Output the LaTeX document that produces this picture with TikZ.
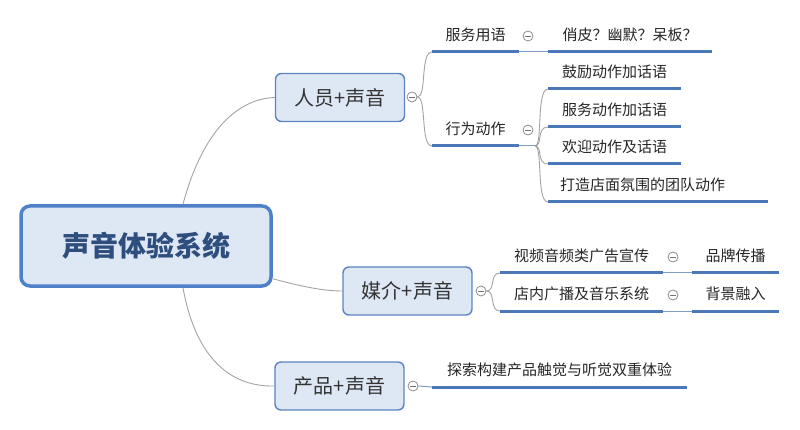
\documentclass[tikz,border=0pt]{standalone}
\usepackage{fontspec}
\setmainfont{Noto Sans CJK SC}
\definecolor{boxfill}{HTML}{DEE8F5}
\definecolor{boxline}{HTML}{5B84C0}
\definecolor{hubline}{HTML}{4F81C9}
\definecolor{hubtext}{HTML}{2E4E7E}
\definecolor{barblue}{HTML}{4A78B8}
\definecolor{wiregray}{HTML}{A3A3A3}
\definecolor{linkblue}{HTML}{7E9CC4}
\begin{document}
\begin{tikzpicture}[x=1pt,y=-1pt,
  hub/.style={draw=hubline,fill=boxfill,line width=3.5pt,rounded corners=9pt,
    minimum width=250pt,minimum height=80pt,text=hubtext,
    font=\fontsize{28}{30}\selectfont\bfseries},
  topic/.style={draw=boxline,fill=boxfill,line width=1.4pt,rounded corners=6pt,
    minimum width=129pt,minimum height=48pt,text=black!80,
    font=\fontsize{20}{22}\selectfont},
  leaf/.style={anchor=south west,minimum width=#1,minimum height=34pt,inner sep=0pt,
    text=black!85,font=\fontsize{15}{17}\selectfont},
  bar/.style={draw=barblue,line width=3pt},
  wire/.style={draw=wiregray,line width=0.9pt},
  link/.style={draw=linkblue,line width=1pt},
  knob/.style={circle,draw=black!45,fill=white,line width=0.8pt,minimum size=10pt,inner sep=0pt,
    path picture={\draw[black!55,line width=0.8pt]
      ([xshift=-2.6pt]path picture bounding box.center) --
      ([xshift=2.6pt]path picture bounding box.center);}}]
  \useasboundingbox (0,0) rectangle (800,430);
  % main topics
  \node[hub] (hub) at (146,246) {声音体验系统};
  \node[topic] (rysy) at (340,97.5) {人员+声音};
  \node[topic] (mjsy) at (407.5,291) {媒介+声音};
  \node[topic] (cpsy) at (339.5,386) {产品+声音};
  % collapse knobs
  \node[knob] (k1) at (412,97) {};
  \node[knob] (k2) at (528,36) {};
  \node[knob] (k3) at (528,130) {};
  \node[knob] (k4) at (481,291) {};
  \node[knob] (k5) at (673,257) {};
  \node[knob] (k6) at (673,295) {};
  \node[knob] (k7) at (413,386) {};
  % leaves
  \node[leaf=87pt] (fwyy) at (432,52) {服务用语};
  \node[leaf=164pt] (qpym) at (548,52) {俏皮？幽默？呆板？};
  \node[leaf=87pt] (xwdz) at (432,146) {行为动作};
  \node[leaf=133pt] (gldz) at (548,89) {鼓励动作加话语};
  \node[leaf=133pt] (fwdz) at (548,127) {服务动作加话语};
  \node[leaf=133pt] (hydz) at (548,164) {欢迎动作及话语};
  \node[leaf=220pt,inner xsep=12pt,text width=196pt,align=left] (tddz) at (548,202) {打造店面氛围的团队动作};
  \node[leaf=163pt] (spgg) at (500,273) {视频音频类广告宣传};
  \node[leaf=87pt] (ppcb) at (692,273) {品牌传播};
  \node[leaf=163pt] (dngb) at (500,311) {店内广播及音乐系统};
  \node[leaf=87pt] (bjrr) at (692,311) {背景融入};
  \node[leaf=255pt] (tsgj) at (432,387) {探索构建产品触觉与听觉双重体验};
  \coordinate (b2) at (535,146);
  % underlines
  \foreach \n in {fwyy,qpym,xwdz,gldz,fwdz,hydz,tddz,spgg,ppcb,dngb,bjrr,tsgj}
    \draw[bar] (\n.south west) -- (\n.south east);
  % connectors from the hub
  \draw[wire] ([xshift=37pt]hub.north) .. controls (200,140) and (232,99) .. (rysy.west);
  \draw[wire] ([yshift=9pt]hub.south east) .. controls (300,286) and (322,291) .. (mjsy.west);
  \draw[wire] ([xshift=37pt]hub.south) .. controls (196,360) and (232,387) .. (cpsy.west);
  % second level
  \draw[wire] (k1.east) .. controls (427,97) and (420,52) .. (fwyy.south west);
  \draw[wire] (k1.east) .. controls (427,97) and (420,146) .. (xwdz.south west);
  \draw[link] (fwyy.south east) -- (qpym.south west);
  \draw[link] (xwdz.south east) -- (b2);
  \foreach \n in {gldz,fwdz,hydz,tddz}
    \draw[wire] (b2) .. controls (543,146) and ([xshift=-12pt]\n.south west) .. (\n.south west);
  \draw[wire] (k4.east) .. controls (496,291) and (489,273) .. (spgg.south west);
  \draw[wire] (k4.east) .. controls (496,291) and (489,311) .. (dngb.south west);
  \draw[link] (spgg.south east) -- (ppcb.south west);
  \draw[link] (dngb.south east) -- (bjrr.south west);
  \draw[link] (k7.east) -- (tsgj.south west);
\end{tikzpicture}
\end{document}
